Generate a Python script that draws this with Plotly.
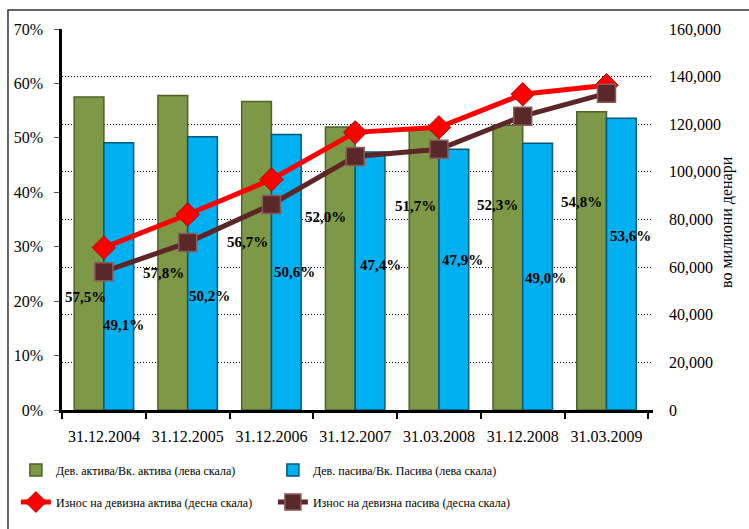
import plotly.graph_objects as go

# Foreign-currency share of total assets / liabilities (left scale, %)
dates = ["31.12.2004", "31.12.2005", "31.12.2006", "31.12.2007",
         "31.03.2008", "31.12.2008", "31.03.2009"]
fx_assets_share = [57.5, 57.8, 56.7, 52.0, 51.7, 52.3, 54.8]
fx_liab_share = [49.1, 50.2, 50.6, 47.4, 47.9, 49.0, 53.6]

# Foreign-currency amounts, millions of denars (right scale)
fx_assets_amount = [68200, 82100, 96800, 116600, 118700, 132600, 136400]
fx_liab_amount = [58100, 70300, 86300, 106500, 109500, 123400, 133000]

names = [
    "Дев. актива/Вк. актива (лева скала)",
    "Дев. пасива/Вк. Пасива (лева скала)",
    "Износ на девизна актива (десна скала)",
    "Износ на девизна пасива (десна скала)",
]
right_title = "во милиони денари"

# Placement of the percentage labels (left-scale height, horizontal pixel shift)
assets_label_y = [20.8, 25.2, 30.9, 35.4, 37.4, 37.6, 38.3]
assets_label_dx = [-18, -24, -24, -30, -23, -25, -25]
liab_label_y = [15.7, 21.0, 25.4, 26.7, 27.6, 24.3, 31.9]
liab_label_dx = [20, 22, 23, 25, 24, 23, 24]

FONT = "Liberation Serif, Times New Roman, serif"
GREEN = "#7D9846"
GREEN_EDGE = "#4E6127"
BLUE = "#00B0F0"
BLUE_EDGE = "#00587A"
RED = "#FF0000"
BROWN = "#5C2626"

fig = go.Figure()

fig.add_trace(go.Bar(
    x=dates, y=fx_assets_share, name=names[0],
    marker=dict(color=GREEN, line=dict(color=GREEN_EDGE, width=1.5)),
    legend="legend",
))
fig.add_trace(go.Bar(
    x=dates, y=fx_liab_share, name=names[1],
    marker=dict(color=BLUE, line=dict(color=BLUE_EDGE, width=1.5)),
    legend="legend",
))
fig.add_trace(go.Scatter(
    x=dates, y=fx_assets_amount, name=names[2], yaxis="y2",
    mode="lines+markers",
    line=dict(color=RED, width=5),
    marker=dict(symbol="diamond", size=18, color=RED,
                line=dict(color="#B00000", width=1)),
    legend="legend2",
))
fig.add_trace(go.Scatter(
    x=dates, y=fx_liab_amount, name=names[3], yaxis="y2",
    mode="lines+markers",
    line=dict(color=BROWN, width=5),
    marker=dict(symbol="square", size=18, color="#5A2828",
                line=dict(color="#8A5A5A", width=1.5)),
    legend="legend2",
))

def pct(v):
    return f"{v:.1f}".replace(".", ",") + "%"

annotations = []
for d, v, ly, dx in zip(dates, fx_assets_share, assets_label_y, assets_label_dx):
    annotations.append(dict(x=d, y=ly, xref="x", yref="y", text=pct(v),
                            showarrow=False, xshift=dx,
                            font=dict(family=FONT, size=15, color="black",
                                      weight="bold")))
for d, v, ly, dx in zip(dates, fx_liab_share, liab_label_y, liab_label_dx):
    annotations.append(dict(x=d, y=ly, xref="x", yref="y", text=pct(v),
                            showarrow=False, xshift=dx,
                            font=dict(family=FONT, size=15, color="black",
                                      weight="bold")))
annotations.append(dict(x=1.1438, y=0.4934, xref="paper", yref="paper",
                        text=right_title, showarrow=False, textangle=-90,
                        font=dict(family=FONT, size=16, color="black")))

fig.update_layout(
    width=749, height=529,
    margin=dict(l=62, r=96, t=29, b=119),
    paper_bgcolor="white", plot_bgcolor="white",
    font=dict(family=FONT, size=16, color="black"),
    barmode="group", bargap=0.29, bargroupgap=0,
    annotations=annotations,
    xaxis=dict(
        type="category", showline=True, linecolor="black", linewidth=2.5,
        ticks="outside", tickson="boundaries", ticklen=6, tickwidth=1.5,
        tickcolor="black", ticklabelstandoff=10, showgrid=False,
        tickfont=dict(family=FONT, size=16),
    ),
    yaxis=dict(
        range=[0, 70], dtick=10, ticksuffix="%", showgrid=False,
        showline=True, linecolor="black", linewidth=2.5,
        ticks="outside", ticklen=5, tickcolor="#555", ticklabelstandoff=8,
        zeroline=False, tickfont=dict(family=FONT, size=16),
    ),
    yaxis2=dict(
        range=[0, 160000], dtick=20000, tickformat=",", overlaying="y",
        side="right", showline=False, ticks="", ticklabelstandoff=15,
        showgrid=True, gridcolor="black", griddash="1px,2px", gridwidth=1,
        zeroline=False, tickfont=dict(family=FONT, size=16),
    ),
    legend=dict(
        orientation="h", x=-0.078, y=-0.1575, xanchor="left", yanchor="middle",
        entrywidth=212, entrywidthmode="pixels",
        font=dict(family=FONT, size=12), bgcolor="rgba(0,0,0,0)",
    ),
    legend2=dict(
        orientation="h", x=-0.078, y=-0.2415, xanchor="left", yanchor="middle",
        entrywidth=212, entrywidthmode="pixels",
        font=dict(family=FONT, size=12), bgcolor="rgba(0,0,0,0)",
    ),
    shapes=[dict(type="rect", xref="paper", yref="paper",
                 x0=-0.0914, y0=-0.35, x1=1.2, y1=1.0499,
                 line=dict(color="#333", width=1.5), fillcolor="rgba(0,0,0,0)",
                 layer="below")],
)

fig.write_html("out.html")
